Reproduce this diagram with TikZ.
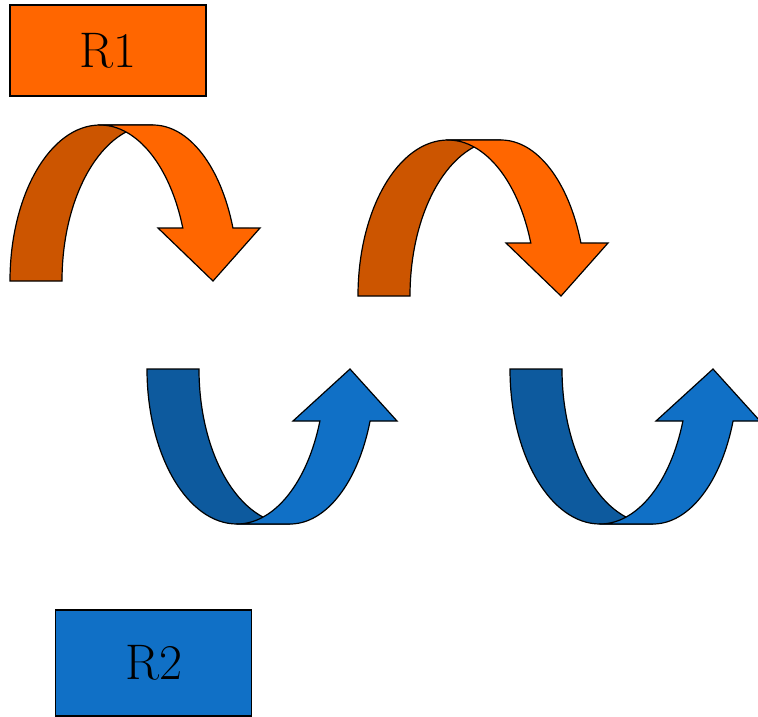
\documentclass[tikz,border=0pt]{standalone}
\definecolor{orfront}{HTML}{FF6600}
\definecolor{orback}{HTML}{CC5500}
\definecolor{blfront}{HTML}{1070C6}
\definecolor{blback}{HTML}{0D5A9E}
\tikzset{
  shapeline/.style={draw=black, line width=1.2pt, line join=miter},
  labelbox/.style={draw=black, line width=1.2pt, minimum width=196pt, inner sep=0pt,
    font=\fontsize{50}{60}\selectfont},
  pics/downarrow/.style={code={
    \path[shapeline, fill=orback] (0,0)
      arc[start angle=180, end angle=90, x radius=90pt, y radius=156pt]
      -- (143,156)
      arc[start angle=90, end angle=180, x radius=91pt, y radius=156pt] -- cycle;
    \path[shapeline, fill=orfront] (90,156) -- (143,156)
      arc[start angle=90, end angle=19.87, x radius=85pt, y radius=156pt]
      -- (250,53) -- (203,0) -- (148,53) -- (172.8,53)
      arc[start angle=19.87, end angle=90, x radius=88pt, y radius=156pt] -- cycle;
  }},
  pics/uparrow/.style={code={
    \path[shapeline, fill=blback] (0,0)
      arc[start angle=180, end angle=270, x radius=90pt, y radius=155pt]
      -- (143,-155)
      arc[start angle=270, end angle=180, x radius=91pt, y radius=155pt] -- cycle;
    \path[shapeline, fill=blfront] (90,-155) -- (143,-155)
      arc[start angle=270, end angle=340.4, x radius=85pt, y radius=155pt]
      -- (250,-52) -- (203,0) -- (146,-52) -- (172.9,-52)
      arc[start angle=340.4, end angle=270, x radius=88pt, y radius=155pt] -- cycle;
  }}
}
\begin{document}
\begin{tikzpicture}[x=1pt, y=1pt]
  \useasboundingbox (0,0) rectangle (758,-716);
  \node[labelbox, fill=orfront, minimum height=91pt] (r1) at (108,-50.5) {R1};
  \node[labelbox, fill=blfront, minimum height=106pt] (r2) at (153.5,-663) {R2};
  \pic (arrowA) at (10,-281) {downarrow};
  \pic (arrowB) at (358,-296) {downarrow};
  \pic (arrowC) at (147,-369) {uparrow};
  \pic (arrowD) at (510,-369) {uparrow};
\end{tikzpicture}
\end{document}
